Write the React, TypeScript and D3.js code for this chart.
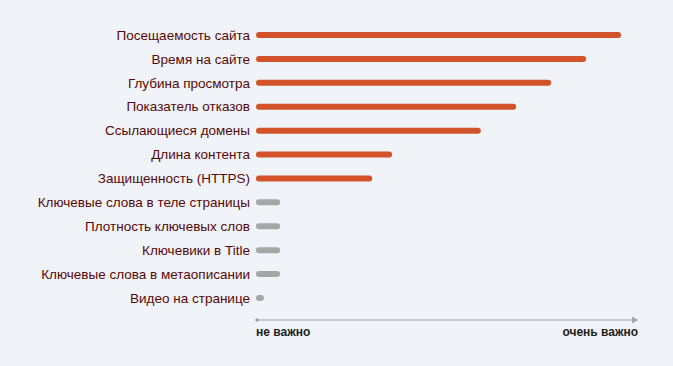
import { useEffect, useRef } from 'react';
import * as d3 from 'd3';

const factors = [
  'Посещаемость сайта',
  'Время на сайте',
  'Глубина просмотра',
  'Показатель отказов',
  'Ссылающиеся домены',
  'Длина контента',
  'Защищенность (HTTPS)',
  'Ключевые слова в теле страницы',
  'Плотность ключевых слов',
  'Ключевики в Title',
  'Ключевые слова в метаописании',
  'Видео на странице',
];
const importance = [95.5, 86.2, 76.9, 67.6, 58.2, 34.6, 29.3, 4.8, 4.8, 4.8, 4.8, 0.5];
const significant = [true, true, true, true, true, true, true, false, false, false, false, false];
const axisLabels = ['не важно', 'очень важно'];

const W = 673;
const H = 366;

export default function App() {
  const svgRef = useRef<SVGSVGElement>(null);

  useEffect(() => {
    document.body.style.margin = '0';
    if (!svgRef.current) return;
    const svg = d3.select(svgRef.current);
    svg.selectAll('*').remove();

    svg.append('rect').attr('width', W).attr('height', H).attr('fill', '#f0f3f7');

    const x = d3.scaleLinear().domain([0, 100]).range([259, 635]);
    const y = d3.scalePoint<string>().domain(factors).range([35, 298]);

    const rows = svg.append('g')
      .selectAll('g')
      .data(factors)
      .join('g')
      .attr('transform', d => `translate(0,${y(d)})`);

    rows.append('text')
      .attr('x', 250)
      .attr('dy', '0.35em')
      .attr('text-anchor', 'end')
      .attr('font-family', 'Liberation Sans, Arial, sans-serif')
      .attr('font-size', '13.5px')
      .attr('fill', '#560808')
      .text(d => d);

    rows.append('line')
      .attr('x1', x(0))
      .attr('x2', (_, i) => x(importance[i]))
      .attr('stroke', (_, i) => (significant[i] ? '#d2532a' : '#a5a6a8'))
      .attr('stroke-width', 6)
      .attr('stroke-linecap', 'round');

    // Importance axis
    const axisY = 320;
    const ax = svg.append('g').attr('transform', `translate(0,${axisY})`);
    ax.append('line')
      .attr('x1', 257).attr('x2', 636)
      .attr('stroke', '#a0a3a8')
      .attr('stroke-width', 1);
    ax.append('circle').attr('cx', 257).attr('r', 1.8).attr('fill', '#a0a3a8');
    ax.append('path')
      .attr('d', 'M632,-3.5 L638,0 L632,3.5 Z')
      .attr('fill', '#a0a3a8');

    ax.selectAll('text.lbl')
      .data(axisLabels)
      .join('text')
      .attr('class', 'lbl')
      .attr('x', (_, i) => (i === 0 ? 256 : 638))
      .attr('y', 16)
      .attr('text-anchor', (_, i) => (i === 0 ? 'start' : 'end'))
      .attr('font-family', 'Liberation Sans, Arial, sans-serif')
      .attr('font-size', '12px')
      .attr('font-weight', 'bold')
      .attr('fill', '#1e1e1e')
      .text(d => d);
  }, []);

  return (
    <div>
      <svg ref={svgRef} width={W} height={H} style={{ display: 'block' }} />
    </div>
  );
}
